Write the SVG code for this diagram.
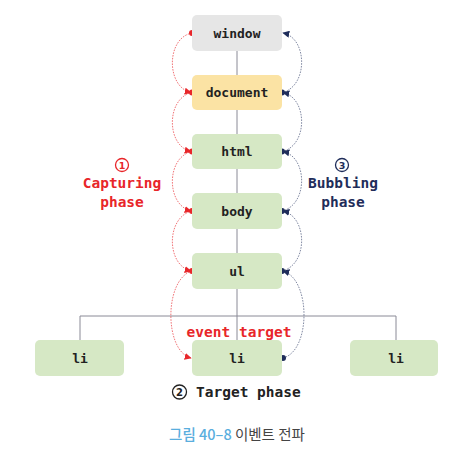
<svg xmlns="http://www.w3.org/2000/svg" width="468" height="464" viewBox="0 0 468 464">
<style>
.lbl{font-family:"DejaVu Sans Mono","Liberation Mono",monospace;font-weight:bold;font-size:13px;fill:#222;text-anchor:middle;dominant-baseline:central}
.tree{stroke:#8a8a96;stroke-width:1;fill:none}
.red{stroke:#e8262a;stroke-width:0.8;fill:none;stroke-dasharray:1.6 1.2;stroke-opacity:0.8}
.blue{stroke:#1f2d5a;stroke-width:0.8;fill:none;stroke-dasharray:1.6 1.2;stroke-opacity:0.7}
.big{font-family:"DejaVu Sans Mono","Liberation Mono",monospace;font-weight:bold;font-size:14.5px;text-anchor:middle;dominant-baseline:central}
</style>
<defs>
<marker id="ar" viewBox="0 0 10 10" refX="9" refY="5" markerWidth="7" markerHeight="7" markerUnits="userSpaceOnUse" orient="auto"><path d="M0,0 L10,5 L0,10 z" fill="#e8262a"/></marker>
<marker id="ab" viewBox="0 0 10 10" refX="9" refY="5" markerWidth="7" markerHeight="7" markerUnits="userSpaceOnUse" orient="auto"><path d="M0,0 L10,5 L0,10 z" fill="#1f2d5a"/></marker>
</defs>
<rect width="468" height="464" fill="#fff"/>
<g id="connectors">
<path class="tree" d="M237,51 V340 M80,316 H396 M80,316 V340 M396,316 V340"/>
<path class="red" marker-end="url(#ar)" d="M192,33 C166,38 166,87 191,92.5"/>
<path class="red" marker-end="url(#ar)" d="M192,92.5 C166,98 166,146 191,151.5"/>
<path class="red" marker-end="url(#ar)" d="M192,151.5 C166,157 166,205 191,211"/>
<path class="red" marker-end="url(#ar)" d="M192,211 C166,217 166,265 191,271"/>
<path class="red" marker-end="url(#ar)" d="M192,271 C164,279 164,351 191,358"/>
<path class="blue" marker-end="url(#ab)" d="M283,358 C311,351 311,279 283,271"/>
<path class="blue" marker-end="url(#ab)" d="M282,271 C308,265 308,217 283,211"/>
<path class="blue" marker-end="url(#ab)" d="M282,211 C308,205 308,157 283,151.5"/>
<path class="blue" marker-end="url(#ab)" d="M282,151.5 C308,146 308,98 283,92.5"/>
<path class="blue" marker-end="url(#ab)" d="M282,92.5 C308,87 308,38 283,33"/>
<g fill="#e8262a"><circle cx="192" cy="33" r="3"/><circle cx="192" cy="92.5" r="3"/><circle cx="192" cy="151.5" r="3"/><circle cx="192" cy="211" r="3"/><circle cx="192" cy="271" r="3"/></g>
<g fill="#1f2d5a"><circle cx="283" cy="358" r="3"/><circle cx="282" cy="271" r="3"/><circle cx="282" cy="211" r="3"/><circle cx="282" cy="151.5" r="3"/><circle cx="282" cy="92.5" r="3"/></g>
</g>
<g id="window"><rect x="192" y="15" width="90" height="36" rx="5" fill="#e6e6e6"/><text class="lbl" x="237" y="33">window</text></g>
<g id="document"><rect x="192" y="75" width="90" height="35" rx="5" fill="#fbe3a4"/><text class="lbl" x="237" y="92.5">document</text></g>
<g id="html"><rect x="192" y="134" width="90" height="35" rx="5" fill="#d6e8c5"/><text class="lbl" x="237" y="151.5">html</text></g>
<g id="body"><rect x="192" y="193" width="90" height="36" rx="5" fill="#d6e8c5"/><text class="lbl" x="237" y="211">body</text></g>
<g id="ul"><rect x="192" y="253" width="90" height="36" rx="5" fill="#d6e8c5"/><text class="lbl" x="237" y="271">ul</text></g>
<g id="li-left"><rect x="35" y="340" width="89" height="36" rx="5" fill="#d6e8c5"/><text class="lbl" x="80" y="358">li</text></g>
<g id="li-center"><rect x="192" y="340" width="90" height="36" rx="5" fill="#d6e8c5"/><text class="lbl" x="237" y="358">li</text></g>
<g id="li-right"><rect x="350" y="340" width="88" height="36" rx="5" fill="#d6e8c5"/><text class="lbl" x="396" y="358">li</text></g>
<g id="capturing" fill="#e8262a">
<circle cx="122" cy="165" r="6.5" fill="none" stroke="#e8262a" stroke-width="1.3"/>
<text x="122" y="165.5" font-family="DejaVu Sans" font-weight="bold" font-size="9.5" text-anchor="middle" dominant-baseline="central">1</text>
<text class="big" x="122" y="183">Capturing</text>
<text class="big" x="122" y="202">phase</text>
</g>
<g id="bubbling" fill="#1f2d5a">
<circle cx="342" cy="165" r="6.5" fill="none" stroke="#1f2d5a" stroke-width="1.3"/>
<text x="342" y="165.5" font-family="DejaVu Sans" font-weight="bold" font-size="9.5" text-anchor="middle" dominant-baseline="central">3</text>
<text class="big" x="343" y="183">Bubbling</text>
<text class="big" x="343" y="202">phase</text>
</g>
<text class="big" x="239" y="332" fill="#e8262a">event target</text>
<g id="target">
<circle cx="179.5" cy="392" r="7" fill="none" stroke="#222" stroke-width="1.3"/>
<text x="179.5" y="392.5" font-family="DejaVu Sans" font-weight="bold" font-size="10" fill="#222" text-anchor="middle" dominant-baseline="central">2</text>
<text class="big" x="196" y="392" fill="#222" style="text-anchor:start">Target phase</text>
</g>
<text x="237" y="433" font-family="'Noto Sans CJK KR',sans-serif" font-size="14.5" text-anchor="middle" dominant-baseline="central"><tspan fill="#5aaede" font-weight="500">그림 40–8</tspan><tspan fill="#444"> 이벤트 전파</tspan></text>
</svg>
